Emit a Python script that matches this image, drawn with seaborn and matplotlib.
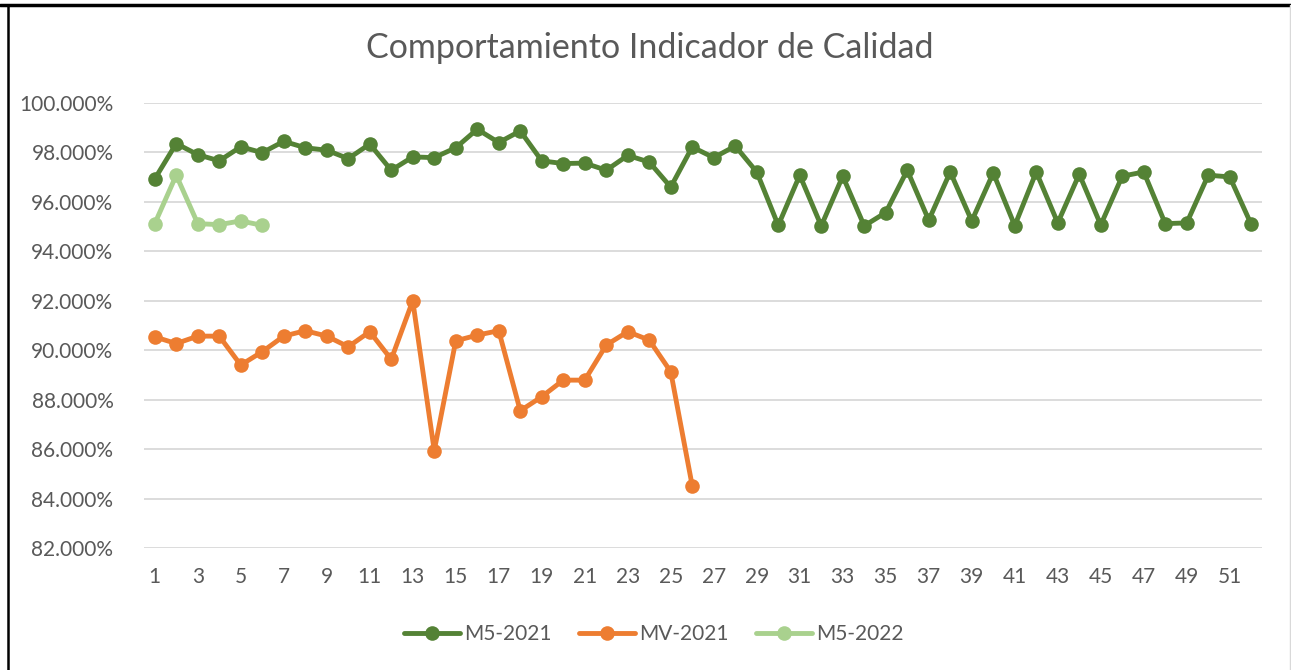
import numpy as np
import pandas as pd
import matplotlib
matplotlib.use("Agg")
import matplotlib.pyplot as plt
from matplotlib.lines import Line2D
from matplotlib.ticker import FuncFormatter
import seaborn as sns

# valores (porcentaje)
m5_2021 = [96.93, 98.36, 97.91, 97.66, 98.23, 97.99, 98.45, 98.19, 98.09, 97.75,
           98.34, 97.28, 97.82, 97.79, 98.19, 98.94, 98.40, 98.87, 97.66, 97.55,
           97.57, 97.28, 97.88, 97.61, 96.60, 98.22, 97.79, 98.26, 97.21, 95.05,
           97.08, 95.03, 97.04, 95.03, 95.57, 97.28, 95.26, 97.21, 95.23, 97.17,
           95.04, 97.21, 95.15, 97.12, 95.07, 97.04, 97.21, 95.12, 95.15, 97.08,
           97.01, 95.09]
mv_2021 = [90.54, 90.27, 90.57, 90.57, 89.40, 89.94, 90.57, 90.79, 90.57, 90.14,
           90.75, 89.63, 92.00, 85.94, 90.38, 90.61, 90.79, 87.55, 88.12, 88.79,
           88.79, 90.21, 90.75, 90.41, 89.13, 84.51]
m5_2022 = [95.12, 97.08, 95.12, 95.08, 95.23, 95.05]

series = ["M5-2021", "MV-2021", "M5-2022"]
colores = ["#548235", "#ED7D31", "#A9D18E"]
ticks_x = list(range(1, 52, 2))
ticks_y = list(range(82, 101, 2))

# tabla larga para seaborn
filas = []
for nombre, valores in zip(series, [m5_2021, mv_2021, m5_2022]):
    for i, v in enumerate(valores):
        filas.append({"semana": i + 1, "valor": v, "serie": nombre})
df = pd.DataFrame(filas)

sns.set_style("white")
plt.rcParams['font.family'] = ['Lato', 'DejaVu Sans']

fig = plt.figure(figsize=(12.91, 6.70), dpi=100)
ax = fig.add_axes([144 / 1291, 122 / 670, 1118 / 1291, 445 / 670])

sns.lineplot(data=df, x="semana", y="valor", hue="serie", hue_order=series,
             palette=colores, marker="o", markersize=10.5, markeredgewidth=0,
             linewidth=3.5, ax=ax, legend=False, zorder=3)

ax.set_xlim(0.5, 52.5)
ax.set_ylim(82, 100)
ax.set_xticks(ticks_x)
ax.set_yticks(ticks_y)
ax.yaxis.set_major_formatter(FuncFormatter(lambda v, p: f"{v:.3f}%"))
ax.grid(axis="y", color="#d9d9d9", linewidth=1.3)
ax.grid(axis="x", visible=False)
for s in ax.spines.values():
    s.set_visible(False)
ax.tick_params(axis="both", length=0, labelsize=15, colors="#595959")
ax.tick_params(axis="y", pad=22)
ax.tick_params(axis="x", pad=14)
ax.set_xlabel("")
ax.set_ylabel("")

fig.text(0.5035, 0.928, "Comportamiento Indicador de Calidad", ha="center",
         va="center", fontsize=24.5, color="#595959")

handles = [Line2D([0], [0], color=c, linewidth=3.5, marker="o", markersize=10.5,
                  markeredgewidth=0) for c in colores]
fig.legend(handles, series, loc="center", bbox_to_anchor=(654 / 1291, 1 - 634 / 670),
           ncol=3, frameon=False, fontsize=15, labelcolor="#595959",
           handlelength=2.7, handletextpad=0.2, columnspacing=1.3)

# borde del cuadro
fig.add_artist(Line2D([0, 1], [1 - 5 / 670] * 2, color="black", linewidth=2.5))
fig.add_artist(Line2D([8 / 1291] * 2, [0, 1 - 5 / 670], color="black", linewidth=1.8))
fig.add_artist(Line2D([1289.5 / 1291] * 2, [0, 1 - 5 / 670], color="#d9d9d9", linewidth=1))

fig.savefig("out.png", dpi=100)
plt.close(fig)
